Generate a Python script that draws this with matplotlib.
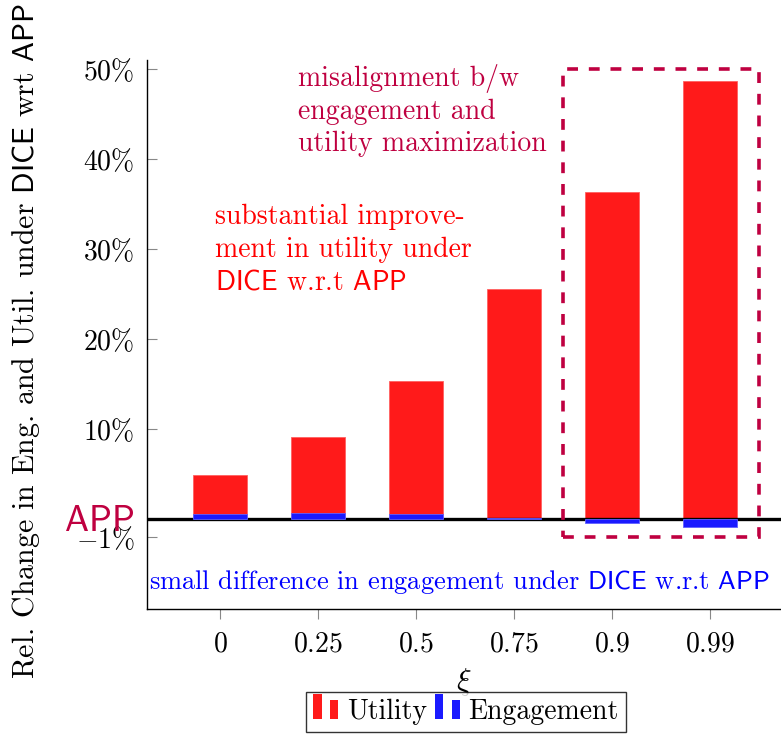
import numpy as np
import matplotlib
matplotlib.use("Agg")
import matplotlib.pyplot as plt
from matplotlib.patches import Rectangle
from matplotlib.legend_handler import HandlerBase

plt.rcParams['font.family'] = 'cmr10'
plt.rcParams['mathtext.fontset'] = 'cm'
plt.rcParams['axes.formatter.use_mathtext'] = True

# data
xi_labels = ['0', '0.25', '0.5', '0.75', '0.9', '0.99']
utility = [4.9, 9.1, 15.3, 25.6, 36.3, 48.7]        # % change in utility
engagement = [0.55, 0.65, 0.55, 0.12, -0.22, -0.45]  # % change in engagement
ytick_vals = [-1, 0, 10, 20, 30, 40, 50]
ytick_labels = [r'$-1\%$', r'$\mathsf{APP}$', r'$10\%$', r'$20\%$',
                r'$30\%$', r'$40\%$', r'$50\%$']

RED = '#FF1A1A'
BLUE = '#1A1AFF'
PURPLE = '#BF0040'


def fwd(y):
    # negative side of the axis is stretched 2x
    y = np.asarray(y, dtype=float)
    return np.where(y >= 0, y, 2 * y)


def inv(y):
    y = np.asarray(y, dtype=float)
    return np.where(y >= 0, y, y / 2)


class TwoBarHandler(HandlerBase):
    ''' pgfplots style ybar legend image: two small bars. '''
    def create_artists(self, legend, orig_handle, xdescent, ydescent,
                       width, height, fontsize, trans):
        c = orig_handle.get_facecolor()
        bw = width * 0.3
        r1 = Rectangle((-xdescent, -ydescent), bw, height * 1.3,
                       facecolor=c, edgecolor='none', transform=trans)
        r2 = Rectangle((-xdescent + width * 0.6, -ydescent), bw, height * 1.0,
                       facecolor=c, edgecolor='none', transform=trans)
        return [r1, r2]


fig = plt.figure(figsize=(7.81, 7.38), dpi=100)
ax = fig.add_axes([147 / 781, 1 - 609 / 738, 1 - 147 / 781, (609 - 60) / 738])
ax.set_yscale('function', functions=(fwd, inv))

x = np.arange(len(xi_labels))
ax.bar(x, utility, width=0.55, color=RED, edgecolor='#FF6060', linewidth=0.6, zorder=1)
ax.axhline(0, color='black', lw=2.4, zorder=2)
ax.bar(x, engagement, width=0.55, color=BLUE, edgecolor='#6060FF', linewidth=0.6, zorder=3)

ax.set_xlim(-0.745, 5.725)
ax.set_ylim(-5, 51)

ax.set_xticks(x, [r'$%s$' % s for s in xi_labels])
ax.set_yticks(ytick_vals, ytick_labels)
ax.tick_params(axis='both', labelsize=20, color='#888888')
ax.tick_params(axis='y', direction='in', length=7, pad=9)
ax.tick_params(axis='x', direction='out', length=7, pad=9)
app_lbl = ax.get_yticklabels()[1]
app_lbl.set_color(PURPLE)
app_lbl.set_fontsize(26)

for s in ['top', 'right']:
    ax.spines[s].set_visible(False)
for s in ['left', 'bottom']:
    ax.spines[s].set_linewidth(1.0)

ax.set_xlabel(r'$\xi$', fontsize=22, labelpad=6)
ax.set_ylabel(r'Rel. Change in Eng. and Util. under $\mathsf{DICE}$ wrt $\mathsf{APP}$',
              fontsize=21.5, labelpad=6)
ax.yaxis.set_label_coords(-0.165, 0.487)

# highlight box around the high-xi bars
ax.add_patch(Rectangle((3.5, -1), 2.0, 51, fill=False, edgecolor=PURPLE,
                       lw=2.6, linestyle=(0, (3, 3)), zorder=4, clip_on=False))

ax.text(0.8, 50.6, 'misalignment b/w\nengagement and\nutility maximization',
        color=PURPLE, fontsize=20, va='top', ha='left', linespacing=1.3)
ax.text(-0.05, 35.0, 'substantial improve-\nment in utility under\n'
        r'$\mathsf{DICE}$ w.r.t $\mathsf{APP}$',
        color='#FF0000', fontsize=20, va='top', ha='left', linespacing=1.3)
ax.text(-0.72, -3.5, r'small difference in engagement under $\mathsf{DICE}$ w.r.t $\mathsf{APP}$',
        color='#0000FF', fontsize=19, va='center', ha='left')

h_util = Rectangle((0, 0), 1, 1, facecolor=RED)
h_eng = Rectangle((0, 0), 1, 1, facecolor=BLUE)
leg = fig.legend([h_util, h_eng], ['Utility', 'Engagement'], ncol=2,
                 loc='upper center', bbox_to_anchor=(466 / 781, 1 - 692 / 738),
                 borderaxespad=0, fontsize=20, frameon=True, fancybox=False,
                 edgecolor='black', handler_map={Rectangle: TwoBarHandler()},
                 handlelength=1.0, handletextpad=0.2, columnspacing=0.3,
                 borderpad=0.25)
leg.get_frame().set_linewidth(1.0)

fig.savefig('out.png', dpi=100)
